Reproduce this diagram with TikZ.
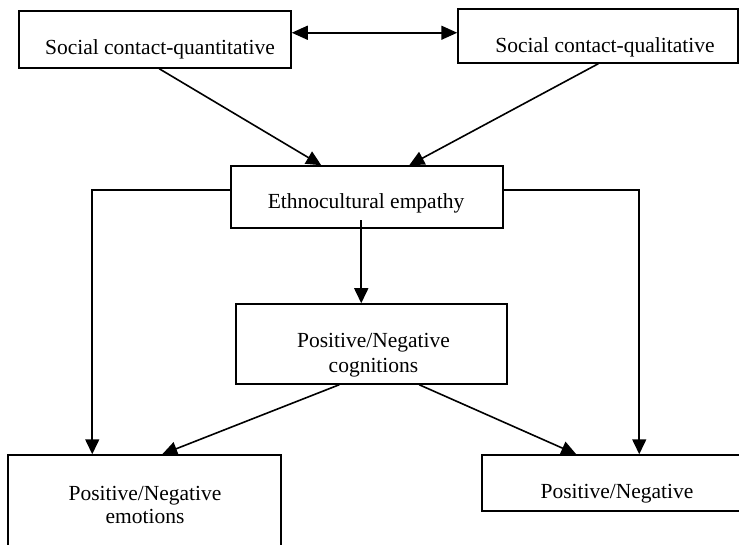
\documentclass[tikz,border=0pt]{standalone}
\usepackage{fontspec}
\setmainfont{Liberation Serif}
\usetikzlibrary{arrows.meta,calc}
\begin{document}
\begin{tikzpicture}[x=1pt,y=-1pt,
  box/.style={draw, line width=1.5pt, inner sep=0pt},
  lbl/.style={font=\fontsize{21.5}{26}\selectfont, inner sep=0pt, anchor=base},
  tip/.style={Triangle[length=15pt,width=14pt]},
  arr/.style={line width=1.6pt, -{Triangle[length=15pt,width=14pt]}},
  darr/.style={line width=1.6pt, {Triangle[length=16pt,width=14pt]}-{Triangle[length=16pt,width=14pt]}},
  ]
\useasboundingbox (0,0) rectangle (739,545);
% boxes
\node[box, minimum width=272pt, minimum height=57pt] (b1) at (155,39.5) {};
\node[box, minimum width=280pt, minimum height=54pt] (b2) at (598,36) {};
\node[box, minimum width=272pt, minimum height=62pt] (emp) at (367,197) {};
\node[box, minimum width=271pt, minimum height=80pt] (cog) at (371.5,344) {};
\node[box, minimum width=273pt, minimum height=105pt] (emo) at (144.5,507.5) {};
\node[box, minimum width=278pt, minimum height=56pt] (beh) at (621,483) {};
% texts
\node[lbl] (t1) at (160,55) {Social contact-quantitative};
\node[lbl] (t2) at (605,53) {Social contact-qualitative};
\node[lbl] (t3) at (366,209) {Ethnocultural empathy};
\node[lbl] (t4a) at (373.5,348) {Positive/Negative};
\node[lbl] (t4b) at (373.5,372) {cognitions};
\node[lbl] (t5a) at (145,500) {Positive/Negative};
\node[lbl] (t5b) at (145,523) {emotions};
\node[lbl] (t6) at (617,498) {Positive/Negative};
% connectors
\draw[darr] ($(b1.south east)+(0,-36)$) coordinate (p1) -- (b2.west |- p1);
\draw[arr] ($(b1.south west)+(141,0)$) -- ($(emp.north west)+(91,0)$);
\draw[arr] ($(b2.south west)+(141,0)$) -- ($(emp.north west)+(179,0)$);
\draw[arr] ($(emp.north west)+(0,25)$) -| ($(emo.north west)+(85,0)$);
\draw[arr] ($(emp.north east)+(0,25)$) -| ($(beh.north west)+(158,0)$);
\draw[arr] ($(emp.north west)+(131,55)$) coordinate (p2) -- (p2 |- cog.north);
\draw[arr] ($(cog.south west)+(104,0)$) -- ($(emo.north west)+(155,0)$);
\draw[arr] ($(cog.south west)+(184,0)$) -- ($(beh.north west)+(95,0)$);
\end{tikzpicture}
\end{document}
